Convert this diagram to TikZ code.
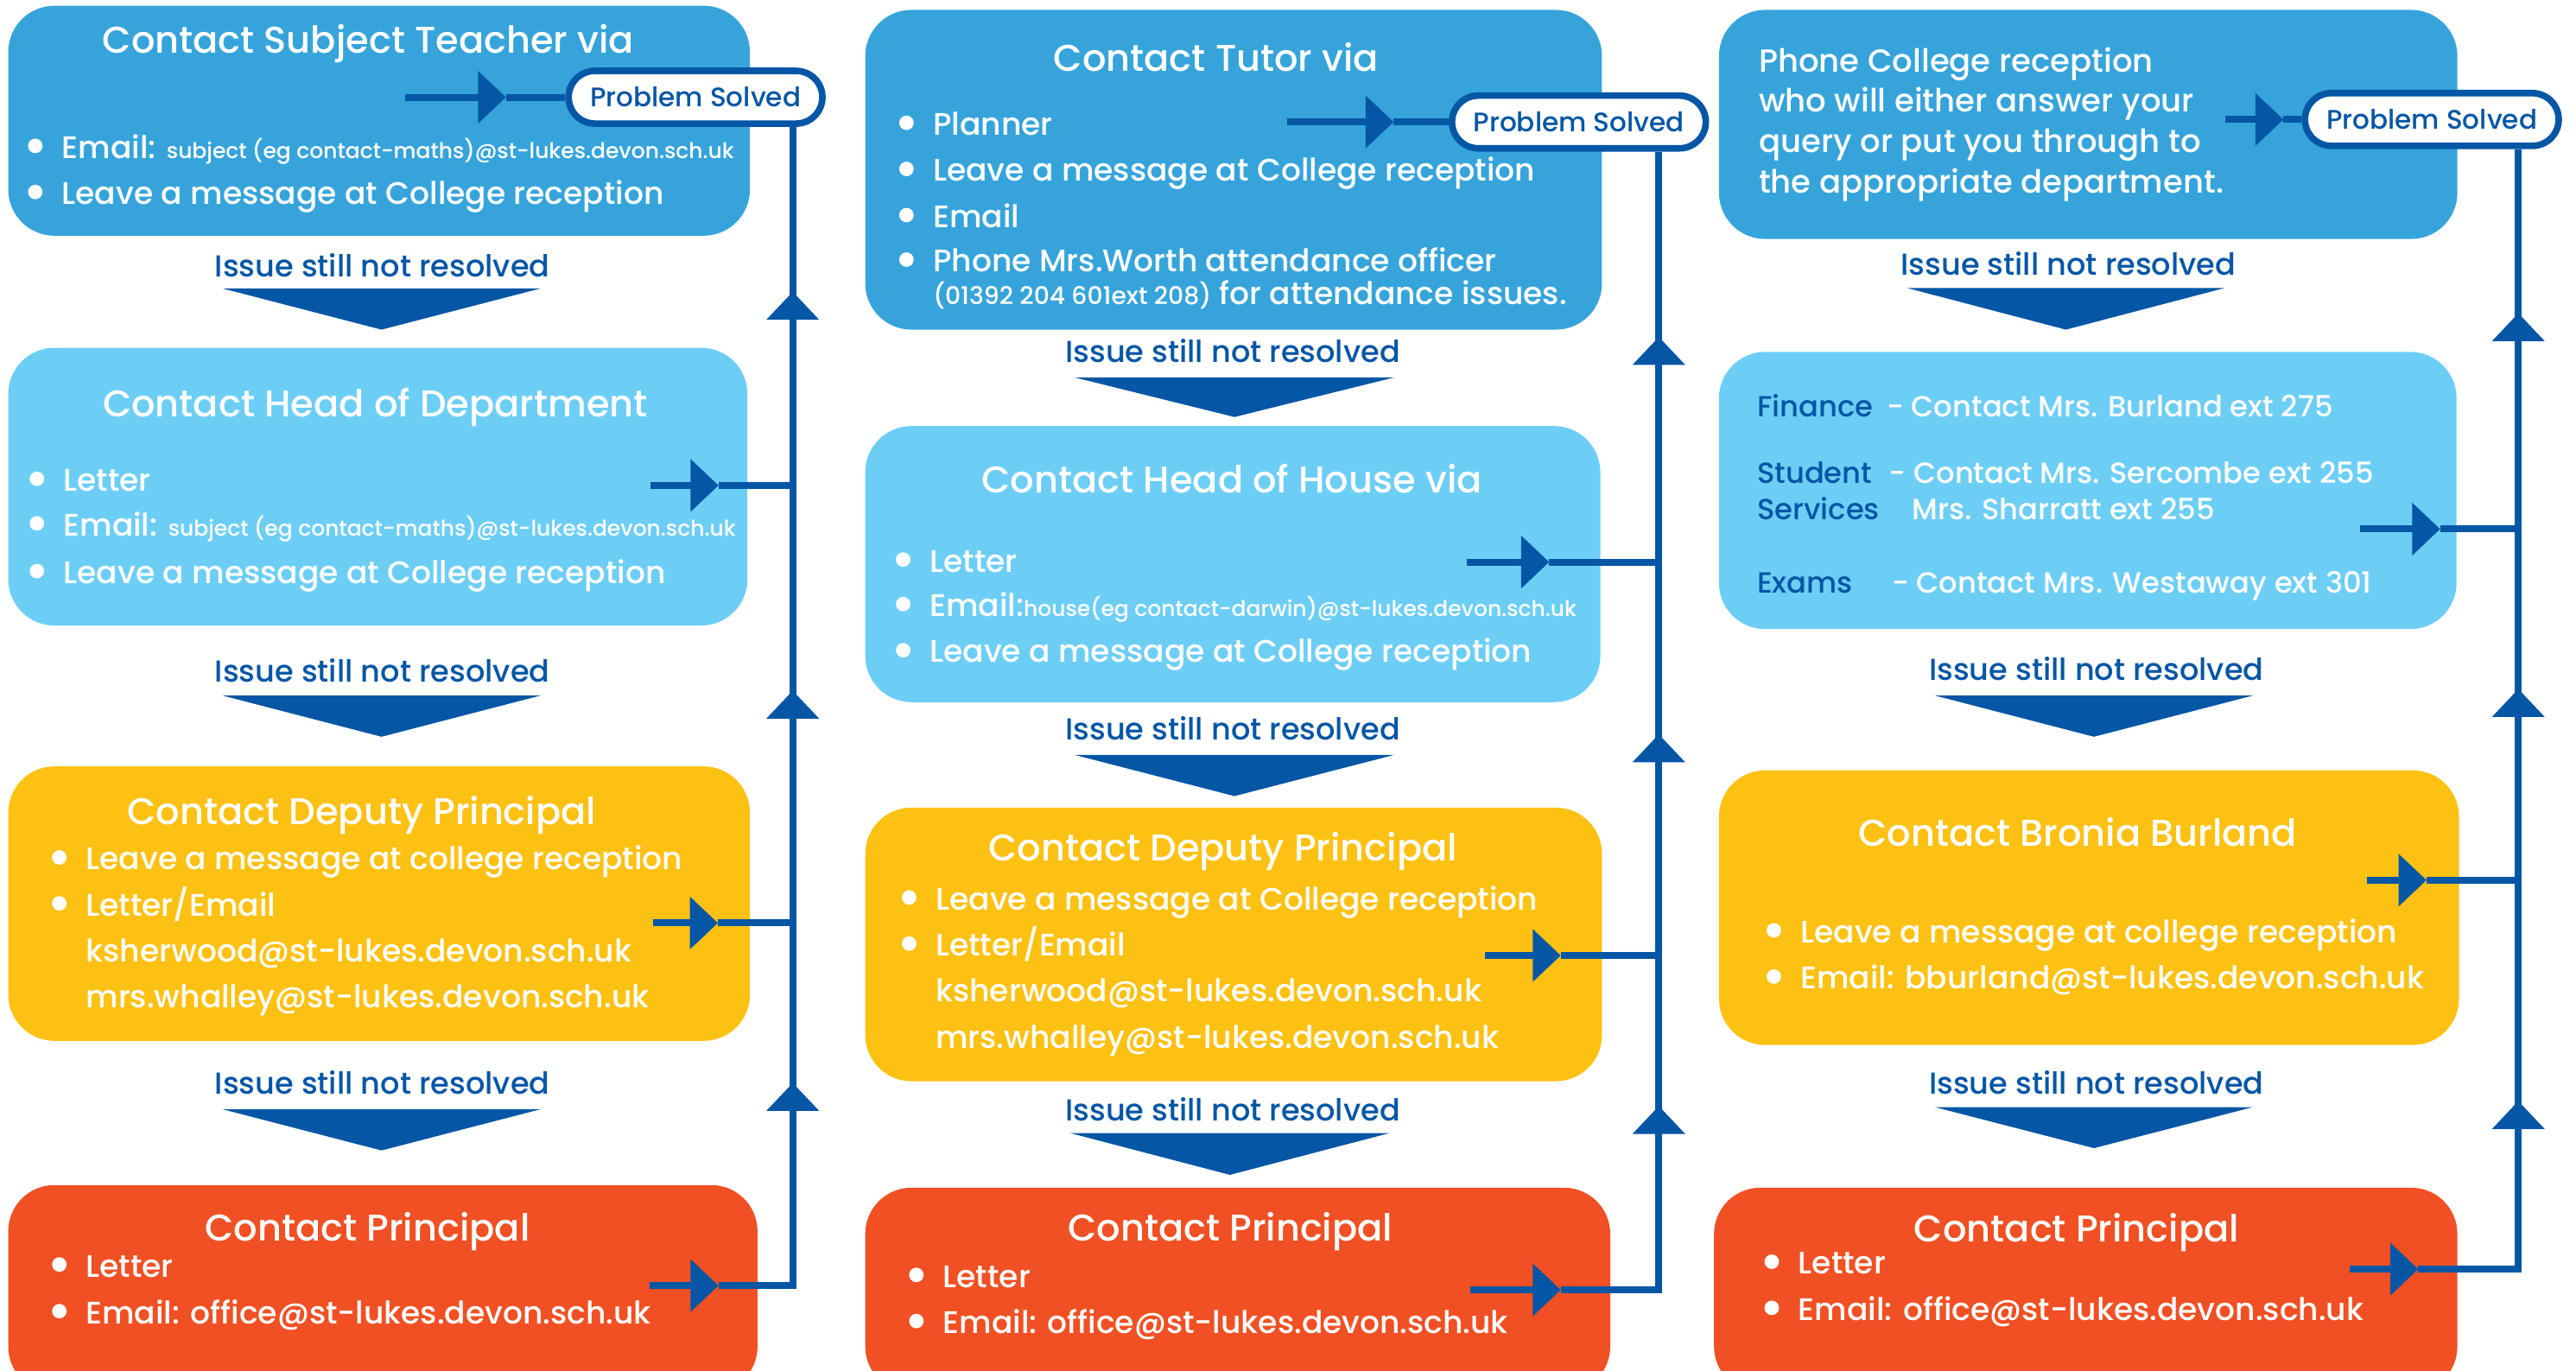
\documentclass[tikz,border=0pt]{standalone}
\usepackage{fontspec}
\setmainfont{Poppins}[UprightFont={* Medium}]
\usetikzlibrary{arrows.meta}
\definecolor{midblue}{HTML}{36A4DB}
\definecolor{paleblue}{HTML}{6DCEF5}
\definecolor{amber}{HTML}{FDC114}
\definecolor{redorange}{HTML}{F05023}
\definecolor{navy}{HTML}{0556A5}
\tikzset{
  panel/.style={rectangle, rounded corners=28pt, inner sep=0pt, draw=none},
  heading/.style={text=white, anchor=base, inner sep=0pt, font=\fontsize{22.6}{28}\selectfont},
  entry/.style={text=white, anchor=base west, inner sep=0pt, font=\fontsize{18.9}{24}\selectfont},
  rowkey/.style={entry, text=navy, font=\fontsize{17.7}{22}\selectfont},
  rowval/.style={entry, font=\fontsize{17.7}{22}\selectfont},
  issue/.style={text=navy, anchor=base, inner sep=0pt, font=\fontsize{18.4}{24}\selectfont},
  solved/.style={draw=navy, line width=4pt, fill=white, rounded corners=16pt, minimum width=154pt,
    minimum height=32pt, inner sep=0pt, text=navy, font=\fontsize{16.3}{20}\selectfont},
  link/.style={navy, line width=4.2pt},
  midtip/.style={link, -{Triangle[length=17pt,width=31pt]}},
  dropcue/.style={fill=navy},
  bulletdot/.style={fill=white}
}
\newcommand{\sm}{\fontsize{13.1}{17}\selectfont}
\begin{document}
\begin{tikzpicture}[x=1pt,y=-1pt]
\useasboundingbox (0,0) rectangle (1563,831.8);
% left column
\node[panel, fill=midblue, minimum width=450pt, minimum height=139.5pt] (A1) at (230,73.25) {};
\node[panel, fill=paleblue, minimum width=448.5pt, minimum height=168.5pt] (A2) at (229.25,295.25) {};
\node[panel, fill=amber, minimum width=450pt, minimum height=166.5pt] (A3) at (230,548.25) {};
\node[panel, fill=redorange, minimum width=454.6pt, minimum height=126pt] (A4) at (232.3,782) {};
\node[heading] (A1h) at (223.5,32.3) {Contact Subject Teacher via};
\node[entry] (A1a) at (37.4,96) {Email: {\sm subject (eg contact-maths)@st-lukes.devon.sch.uk}};
\node[entry] (A1b) at (37.4,124) {Leave a message at College reception};
\node[heading] (A2h) at (227.7,253) {Contact Head of Department};
\node[entry] (A2a) at (38.4,298) {Letter};
\node[entry] (A2b) at (38.4,325) {Email: {\sm subject (eg contact-maths)@st-lukes.devon.sch.uk}};
\node[entry] (A2c) at (38.4,354) {Leave a message at College reception};
\node[heading] (A3h) at (219.5,500.5) {Contact Deputy Principal};
\node[entry] (A3a) at (52,527.7) {Leave a message at college reception};
\node[entry] (A3b) at (52,555.6) {Letter/Email};
\node[entry] (A3c) at (52,583.5) {ksherwood@st-lukes.devon.sch.uk};
\node[entry] (A3d) at (52,611.5) {mrs.whalley@st-lukes.devon.sch.uk};
\node[heading] (A4h) at (223,753) {Contact Principal};
\node[entry] (A4a) at (52,774.7) {Letter};
\node[entry] (A4b) at (52,803) {Email: office@st-lukes.devon.sch.uk};
\node[solved] (P1) at (422,59) {Problem Solved};
% middle column
\node[panel, fill=midblue, minimum width=447pt, minimum height=194pt] (B1) at (748.5,103) {};
\node[panel, fill=paleblue, minimum width=446pt, minimum height=167.5pt] (B2) at (748,342.25) {};
\node[panel, fill=amber, minimum width=447pt, minimum height=166pt] (B3) at (748.5,573) {};
\node[panel, fill=redorange, minimum width=452pt, minimum height=124.4pt] (B4) at (751,782.8) {};
\node[heading] (B1h) at (738,43) {Contact Tutor via};
\node[entry] (B1a) at (566,82) {Planner};
\node[entry] (B1b) at (566,110) {Leave a message at College reception};
\node[entry] (B1c) at (566,138) {Email};
\node[entry] (B1d) at (566,165) {Phone Mrs.Worth attendance officer};
\node[entry] (B1e) at (566,185) {{\fontsize{14.8}{18}\selectfont (01392 204 601ext 208)} for attendance issues.};
\node[heading] (B2h) at (747.5,299) {Contact Head of House via};
\node[entry] (B2a) at (564,347) {Letter};
\node[entry] (B2b) at (564,374) {Email:{\sm house(eg contact-darwin)@st-lukes.devon.sch.uk}};
\node[entry] (B2c) at (564,402) {Leave a message at College reception};
\node[heading] (B3h) at (742,522.5) {Contact Deputy Principal};
\node[entry] (B3a) at (567.6,552) {Leave a message at College reception};
\node[entry] (B3b) at (567.6,580) {Letter/Email};
\node[entry] (B3c) at (567.6,608) {ksherwood@st-lukes.devon.sch.uk};
\node[entry] (B3d) at (567.6,636) {mrs.whalley@st-lukes.devon.sch.uk};
\node[heading] (B4h) at (746.5,753) {Contact Principal};
\node[entry] (B4a) at (572,781) {Letter};
\node[entry] (B4b) at (572,809) {Email: office@st-lukes.devon.sch.uk};
\node[solved] (P2) at (958,74) {Problem Solved};
% right column
\node[panel, fill=midblue, minimum width=448pt, minimum height=139pt] (C1) at (1267,75.5) {};
\node[panel, fill=paleblue, minimum width=447.5pt, minimum height=168.2pt] (C2) at (1266.75,297.6) {};
\node[panel, fill=amber, minimum width=449pt, minimum height=166.6pt] (C3) at (1267.5,550.7) {};
\node[panel, fill=redorange, minimum width=451pt, minimum height=124.4pt] (C4) at (1265.5,782.8) {};
\foreach \y/\txt [count=\i] in {43.7/Phone College reception, 68/who will either answer your,
    92.6/query or put you through to, 117/the appropriate department.}
  \node[entry, font=\fontsize{19.4}{24}\selectfont] (C1\i) at (1067,\y) {\txt};
\node[rowkey] (C2k1) at (1066,253) {Finance};
\node[rowval] (C2v1) at (1144.7,253) {- Contact Mrs. Burland ext 275};
\node[rowkey] (C2k2) at (1066,293.5) {Student};
\node[rowkey] (C2k3) at (1066,315.5) {Services};
\node[rowval] (C2v2) at (1146,293.5) {- Contact Mrs. Sercombe ext 255};
\node[rowval] (C2v3) at (1160,315.5) {Mrs. Sharratt ext 255};
\node[rowkey] (C2k4) at (1066,360) {Exams};
\node[rowval] (C2v4) at (1147.7,360) {- Contact Mrs. Westaway ext 301};
\node[heading] (C3h) at (1260.6,513.6) {Contact Bronia Burland};
\node[entry] (C3a) at (1092.3,572) {Leave a message at college reception};
\node[entry] (C3b) at (1092.3,600) {Email: bburland@st-lukes.devon.sch.uk};
\node[heading] (C4h) at (1260,753.7) {Contact Principal};
\node[entry] (C4a) at (1091,773) {Letter};
\node[entry] (C4b) at (1091,801) {Email: office@st-lukes.devon.sch.uk};
\node[solved] (P3) at (1475.5,72.5) {Problem Solved};
% bullets
\foreach \n in {A1a, A1b, A2a, A2b, A2c, A3a, A3b, A4a, A4b, B1a, B1b, B1c, B1d, B2a, B2b, B2c,
    B3a, B3b, B4a, B4b, C3a, C3b, C4a, C4b}
  \fill[bulletdot] ([xshift=-16pt,yshift=7.5pt]\n.base west) circle (4.4pt);
% issue still not resolved
\foreach \x/\y/\l/\r/\t/\b [count=\i] in {232/168/135/328/175/200, 232/414/135/328/422/447,
    232/664/135/328/673/698, 748/220/652/846/229/253, 748/449/652/846/458/483,
    748/680/649.5/843/687.5/712.8, 1255/167/1157/1350/174.7/200, 1272/413/1174/1367/422/447,
    1272/664/1174/1367/671.7/696.6}
{
  \node[issue] (I\i) at (\x,\y) {Issue still not resolved};
  \fill[dropcue] (\l,\t) -- (\r,\t) -- ({(\l+\r)/2},\b) -- cycle;
}
% arrows back to problem solved
\coordinate (a1s) at (246,59);   \coordinate (a1t) at (307,59);
\coordinate (a2s) at (394.5,294.5); \coordinate (a2t) at (436,294.5);
\coordinate (a3s) at (396,560);  \coordinate (a3t) at (435.6,560);
\coordinate (a4s) at (394,780);  \coordinate (a4t) at (436,780);
\coordinate (k1) at (481,780);
\coordinate (b1s) at (781,74);   \coordinate (b1t) at (845.6,74);
\coordinate (b2s) at (890,341);  \coordinate (b2t) at (940,341);
\coordinate (b3s) at (901,579.7); \coordinate (b3t) at (947,579.7);
\coordinate (b4s) at (892,782.6); \coordinate (b4t) at (947,782.6);
\coordinate (k2) at (1006.5,782.6);
\coordinate (c1s) at (1350,72.5); \coordinate (c1t) at (1385.5,72.5);
\coordinate (c2s) at (1432,321);  \coordinate (c2t) at (1480.6,321);
\coordinate (c3s) at (1436,534);  \coordinate (c3t) at (1472.3,534);
\coordinate (c4s) at (1425.6,770); \coordinate (c4t) at (1467.3,770);
\coordinate (k3) at (1528,770);
\draw[link] (a4t) -- (k1) -- (k1 |- P1.south);
\draw[link] (b4t) -- (k2) -- (k2 |- P2.south);
\draw[link] (c4t) -- (k3) -- (k3 |- P3.south);
\draw[link] (a1t) -- (P1.west);
\draw[link] (b1t) -- (P2.west);
\draw[link] (c1t) -- (P3.west);
\draw[link] (a2t) -- (a2t -| k1);
\draw[link] (a3t) -- (a3t -| k1);
\draw[link] (b2t) -- (b2t -| k2);
\draw[link] (b3t) -- (b3t -| k2);
\draw[link] (c2t) -- (c2t -| k3);
\draw[link] (c3t) -- (c3t -| k3);
\foreach \s/\t in {a1s/a1t, a2s/a2t, a3s/a3t, a4s/a4t, b1s/b1t, b2s/b2t, b3s/b3t, b4s/b4t,
    c1s/c1t, c2s/c2t, c3s/c3t, c4s/c4t}
  \draw[midtip] (\s) -- (\t);
\foreach \x/\b/\t in {481/194/177, 481/436/419, 481/674/657, 1006.5/221/204.4, 1006.5/462.5/445.5,
    1006.5/687/671, 1528/207/190, 1528/436/418, 1528/686.6/668}
  \draw[midtip] (\x,\b) -- (\x,\t);
\end{tikzpicture}
\end{document}
